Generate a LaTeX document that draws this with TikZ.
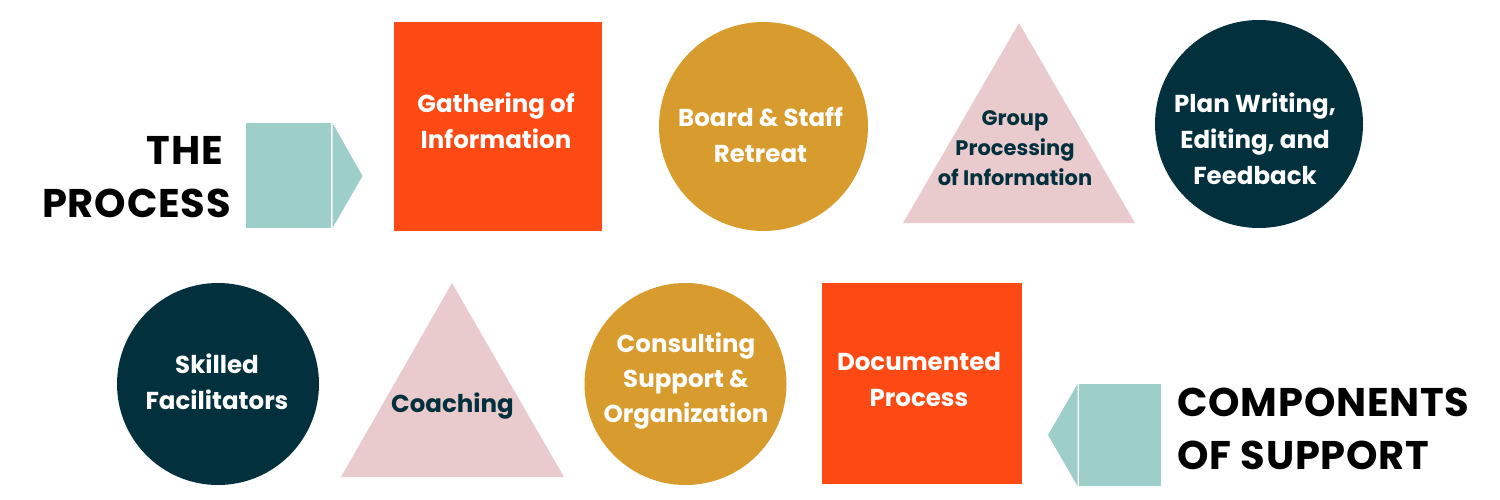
\documentclass[tikz,border=0pt]{standalone}
\usepackage{fontspec}
\setmainfont{Poppins}
\definecolor{cOrange}{HTML}{FD4A14}
\definecolor{cGold}{HTML}{D89C2E}
\definecolor{cDark}{HTML}{02313D}
\definecolor{cPink}{HTML}{E9CBCD}
\definecolor{cTeal}{HTML}{9ECECA}
\tikzset{
  lbl/.style={align=center, inner sep=0pt, font=\bfseries\fontsize{24.5}{36}\selectfont},
  lblw/.style={lbl, text=white},
  lbld/.style={lbl, text=cDark},
  title/.style={inner sep=0pt, font=\bfseries\fontsize{40}{53}\selectfont\addfontfeature{LetterSpace=2}, text=black}
}
\begin{document}
\begin{tikzpicture}[x=1pt,y=-1pt]
\useasboundingbox (0,0) rectangle (1500,500);
% top row
\fill[cTeal] (246,123) rectangle (331,228);
\fill[cTeal] (332.5,123) -- (362.5,176) -- (332.5,228) -- cycle;
\fill[cOrange] (394,22) rectangle (602,231);
\fill[cGold] (763.5,126.5) circle[radius=104.5];
\fill[cPink] (1019,23) -- (1135,223) -- (903,223) -- cycle;
\fill[cDark] (1259,124) circle[radius=104];
% bottom row
\fill[cDark] (218,384) circle[radius=101];
\fill[cPink] (452,283) -- (564,477) -- (341,477) -- cycle;
\fill[cGold] (685.5,384) circle[radius=101];
\fill[cOrange] (822,283) rectangle (1022,484);
\fill[cTeal] (1079,384) rectangle (1161,486);
\fill[cTeal] (1077.5,384) -- (1048,435) -- (1077.5,486) -- cycle;
% texts
\node[title, align=right, anchor=east] (tp) at (231,177) {THE\hspace*{8pt}\\PROCESS};
\node[title, align=left, anchor=west] (cs) at (1177,429) {COMPONENTS\\OF SUPPORT};
\node[lblw] (g) at (496,120.5) {Gathering of\\Information};
\node[lblw] (b) at (760.5,135) {Board \& Staff\\Retreat};
\node[lbld, font=\bfseries\fontsize{21}{30}\selectfont] (gp) at (1015,148) {Group\\Processing\\of Information};
\node[lblw] (pw) at (1255,139) {Plan Writing,\\Editing, and\\Feedback};
\node[lblw] (sf) at (217,381.5) {Skilled\\Facilitators};
\node[lbld] (co) at (452.5,406.5) {Coaching};
\node[lblw, font=\bfseries\fontsize{24.5}{35}\selectfont] (cn) at (686,381) {Consulting\\Support \&\\Organization};
\node[lblw] (dp) at (919,379.5) {Documented\\Process};
\end{tikzpicture}
\end{document}
